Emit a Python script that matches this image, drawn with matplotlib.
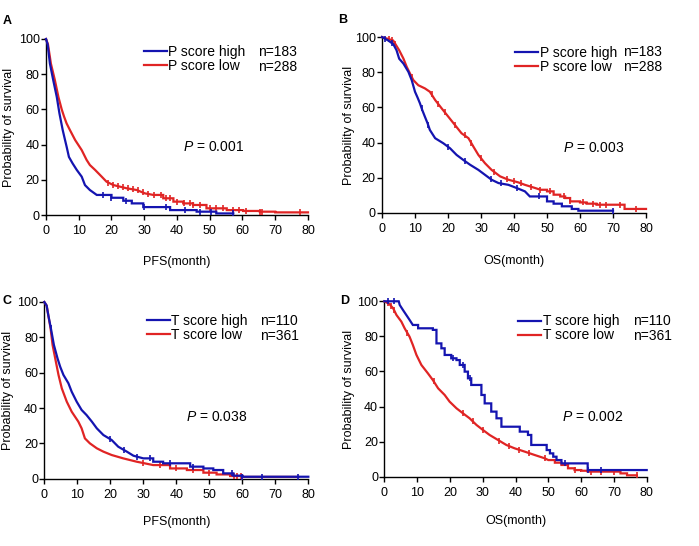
import numpy as np
import matplotlib
matplotlib.use("Agg")
import matplotlib.pyplot as plt

plt.rcParams['font.family'] = ['Liberation Sans', 'DejaVu Sans']
plt.rcParams['mathtext.fontset'] = 'custom'
plt.rcParams['mathtext.rm'] = 'Liberation Sans'
plt.rcParams['mathtext.it'] = 'Liberation Sans:italic'

BLUE = '#1414b0'
RED = '#e02424'

# --- Kaplan-Meier curves (month, survival %) ---
# A: PFS by P score
a_high_t = [0, 0.5, 1.2, 2.2, 3.3, 4.1, 5.1, 5.7, 6.3, 7.0, 8.1, 9.4, 10.9, 11.9, 13.4, 15.5, 20, 23.6, 26.2, 29.7, 37.9, 46, 52, 57.2]
a_high_s = [100, 97, 86, 76.7, 67, 57.8, 48.3, 43.5, 38.8, 33, 29.4, 25.6, 21.8, 17, 14.2, 11.4, 9.8, 8.1, 6.6, 4.5, 2.8, 1.9, 0.9, 0.9]
a_high_c = [17.5, 20, 24.5, 30, 36.5, 42.5, 47, 50.5, 57]
a_low_t = [0, 0.6, 1.5, 2.7, 3.8, 4.8, 5.5, 6.3, 7.3, 8.9, 10.9, 12.4, 13.4, 15, 17, 18.5, 20.6, 22.6, 24.6, 27.7, 30.2, 32.8, 35.8,
           38.9, 41.9, 44.9, 49, 55.2, 60.2, 65.3, 70, 80]
a_low_s = [100, 97, 86, 76.7, 67, 60, 56, 52, 48.3, 42.6, 36.9, 31.3, 28.4, 25.6, 21.8, 18.9, 17, 16.1, 15.2, 14.2, 12.3, 11.4, 9.5,
           7.6, 6.6, 5.7, 3.8, 2.8, 2.3, 1.9, 1.5, 1.5]
a_low_c = [19, 20.5, 22, 23.5, 25, 26.5, 28, 29.5, 31, 33, 35, 36.5, 38, 40, 42, 44, 45, 47, 50, 52, 54, 57, 59, 61, 65.5, 66, 77.5]

# B: OS by P score
b_high_t = [0, 1.9, 3.4, 4.4, 5.2, 6.5, 8, 9, 10, 10.8, 11.5, 12.2, 13, 13.8, 14.5, 16.1, 18.6, 20.6, 22.6, 24.6, 26.7, 29.2, 31.2,
            33.2, 35.3, 38.3, 40.8, 43.3, 44.8, 50, 52, 54.5, 57.5, 59.5, 70]
b_high_s = [100, 98, 96, 92.5, 87.7, 84.9, 80.2, 75.5, 68.9, 65.5, 62.3, 58.5, 54.7, 51, 47.2, 42.5, 39.6, 36.8, 33, 30.2, 27.4, 24.5, 21.7,
            18.9, 17, 16, 14.2, 12.3, 9.4, 6.6, 5.3, 3.8, 2.3, 1.3, 1.3]
b_high_c = [1, 3, 12, 14, 20, 25, 33, 36, 41, 47.5, 70]
b_low_t = [0, 3.4, 5.2, 6.5, 7.5, 8.5, 9.5, 11, 13, 14.5, 16.1, 18.1, 20.1, 22.1, 24.1, 26.2, 27.7, 29.2, 31.2, 33.2, 35.8, 38.3,
           41.3, 43.3, 46.4, 48, 50, 52, 54, 55.5, 57, 60, 62, 65, 73.5, 80]
b_low_s = [100, 98, 92.5, 87.7, 83, 79.2, 75.5, 72.6, 70.8, 68.9, 64.2, 59.4, 54.7, 50, 45.3, 42.5, 37.7, 33, 28.3, 24.5, 20.8, 18.9,
           17.4, 16, 14.2, 13.2, 12.3, 10.4, 9.4, 8.5, 6.6, 6, 5.3, 4.7, 2.3, 2.3]
b_low_c = [2, 3, 4, 9, 15, 17, 19, 22, 25, 27, 30, 34, 38, 40, 42, 45, 48, 51, 55, 57, 61, 64, 66, 68, 72, 77]

# C: PFS by T score
c_high_t = [0, 0.7, 1.2, 2, 2.9, 4, 4.8, 5.8, 7.3, 8.3, 9.8, 11.3, 12.8, 14.4, 15.9, 17.9, 20.4, 22.4, 25, 27, 30, 33, 36,
            44.2, 48.2, 51.2, 54.2, 57.3, 60, 80]
c_high_s = [100, 98, 92.6, 85, 75.7, 68.1, 63.4, 58.7, 54, 49.2, 43.6, 38.9, 36, 32.3, 28.5, 24.7, 21.9, 18.1, 15.3, 13, 11.5, 9.6, 8.7,
            6.8, 5.8, 4.9, 3, 1.7, 1.1, 1.1]
c_high_c = [2, 20, 24, 28, 32, 38, 45, 57, 60, 66, 77]
c_low_t = [0, 0.7, 1.2, 1.9, 2.5, 3.5, 4.3, 5.3, 6.8, 8.3, 10.3, 11.3, 12.3, 13.8, 15.9, 17.9, 20.4, 23.9, 28, 33, 38.1, 43.2,
           48.2, 52.2, 56.3, 60, 77]
c_low_s = [100, 98, 92.6, 85, 75.7, 66.2, 58.7, 51.1, 43.6, 37.9, 32.3, 28.5, 22.8, 20, 17.2, 15.3, 13.4, 11.5, 9.6, 7.7, 5.8, 4.9,
           3.4, 2.4, 1.5, 1, 1]
c_low_c = [30, 35, 40, 45, 50, 57.5, 58.5, 59.5, 60]

# D: OS by T score
d_high_t = [0, 4.4, 4.7, 5.7, 6.7, 7.7, 8.7, 10.3, 14.8, 15.9, 17.4, 18.4, 20.4, 22, 23, 24.5, 25.5, 26.5, 29.6, 30.6, 32.6,
            34.2, 35.7, 41.3, 43.8, 44.8, 49.5, 50.5, 51.5, 52.5, 54, 62, 80]
d_high_s = [100, 100, 97.9, 95, 92.2, 89.4, 86.5, 84.6, 83.7, 76, 73.2, 69.4, 67.5, 66.5, 63.7, 59.9, 56.1, 52.3, 46.6, 41.8, 37.1,
            33.3, 28.5, 25.7, 23.8, 18.1, 15.2, 13.3, 11.4, 9.5, 7.6, 3.8, 3.8]
d_high_c = [1, 3, 21, 24, 26, 55, 62, 66]
d_low_t = [0, 1.5, 2.7, 3.7, 5.2, 6.2, 7.7, 8.7, 9.8, 11.3, 13.3, 14.8, 16.4, 18.4, 19.9, 22, 24, 26, 28.1, 30.1, 32.1, 34.7,
           37.2, 39.7, 42.8, 45.8, 48.9, 50, 52, 54, 56, 58, 60, 62, 72, 74, 77]
d_low_s = [100, 98.5, 96, 92.2, 88.4, 84.6, 79.8, 75.1, 69.4, 63.7, 58.9, 55.1, 50.4, 46.6, 42.8, 39, 36.1, 33.3, 29.5, 26.6, 23.8, 20.9,
           18.1, 16.2, 14.3, 12.4, 10.5, 9.5, 8, 6.7, 4.8, 3.8, 3.4, 2.9, 1.9, 0.8, 0.8]
d_low_c = [1, 2, 3, 7, 15, 24, 27, 30, 35, 38, 41, 44, 49, 58, 63, 66, 70, 77]

# the dense early part of each curve is drawn as a line, the sparse tail as steps
panels = [
    dict(letter='A', pos=[0.0658, 0.6062, 0.3748, 0.3224],
         hi=(a_high_t, a_high_s, a_high_c, 15.5), lo=(a_low_t, a_low_s, a_low_c, 33),
         labels=('P score high', 'P score low'), ns=('n=183', 'n=288'), xlabel='PFS(month)', p='0.001',
         leg=(29.9, 88.5, 64.7), ptxt=(41.8, 38.6), ylc=-0.12, xlc=-0.23, lpos=(7, 21)),
    dict(letter='B', pos=[0.5465, 0.6099, 0.3777, 0.3223],
         hi=(b_high_t, b_high_s, b_high_c, 45), lo=(b_low_t, b_low_s, b_low_c, 48),
         labels=('P score high', 'P score low'), ns=('n=183', 'n=288'), xlabel='OS(month)', p='0.003',
         leg=(40.4, 87.2, 73.1), ptxt=(54.8, 37.1), ylc=-0.101, xlc=-0.24, lpos=(343, 20)),
    dict(letter='C', pos=[0.0634, 0.1233, 0.3777, 0.3236],
         hi=(c_high_t, c_high_s, c_high_c, 30), lo=(c_low_t, c_low_s, c_low_c, 33),
         labels=('T score high', 'T score low'), ns=('n=110', 'n=361'), xlabel='PFS(month)', p='0.038',
         leg=(31.0, 85.1, 65.4), ptxt=(42.9, 35.1), ylc=-0.114, xlc=-0.212, lpos=(7, 301)),
    dict(letter='D', pos=[0.5498, 0.1269, 0.3754, 0.3213],
         hi=(d_high_t, d_high_s, d_high_c, 10), lo=(d_low_t, d_low_s, d_low_c, 50),
         labels=('T score high', 'T score low'), ns=('n=110', 'n=361'), xlabel='OS(month)', p='0.002',
         leg=(40.9, 84.5, 75.7), ptxt=(54.1, 34.2), ylc=-0.111, xlc=-0.217, lpos=(345, 301)),
]


def km_path(t, s, smooth_until):
    xs, ys = [t[0]], [s[0]]
    for i in range(1, len(t)):
        if t[i] > smooth_until:
            xs.append(t[i])
            ys.append(s[i - 1])
        xs.append(t[i])
        ys.append(s[i])
    return xs, ys


def curve_value(xs, ys, tc):
    # value of the drawn curve at the censor times (last point at that time)
    xs = np.asarray(xs)
    ys = np.asarray(ys)
    out = []
    for x in tc:
        idx = np.searchsorted(xs, x, side='right') - 1
        idx = min(max(idx, 0), len(xs) - 1)
        if idx < len(xs) - 1 and xs[idx + 1] > xs[idx] and ys[idx + 1] != ys[idx]:
            out.append(np.interp(x, xs[idx:idx + 2], ys[idx:idx + 2]))
        else:
            out.append(ys[idx])
    return out


fig = plt.figure(figsize=(6.99, 5.46), dpi=100)

for pnl in panels:
    ax = fig.add_axes(pnl['pos'])
    handles = []
    for key, color in (('lo', RED), ('hi', BLUE)):
        t, s, c, smooth = pnl[key]
        xs, ys = km_path(t, s, smooth)
        ln, = ax.plot(xs, ys, color=color, lw=1.6, clip_on=False, zorder=3, solid_joinstyle='miter')
        ax.plot(c, curve_value(xs, ys, c), linestyle='none', marker='|', markersize=4.5,
                markeredgewidth=1.2, color=color, clip_on=False, zorder=3)
        handles.append(ln)
    handles = handles[::-1]

    ax.set_xlim(0, 80)
    ax.set_ylim(0, 100)
    ax.set_xticks(np.arange(0, 81, 10))
    ax.set_yticks(np.arange(0, 101, 20))
    for side in ['top', 'right']:
        ax.spines[side].set_visible(False)
    for side in ['left', 'bottom']:
        ax.spines[side].set_linewidth(1.0)
    ax.tick_params(axis='both', direction='out', length=3.5, width=1.0, labelsize=9)
    ax.tick_params(axis='y', pad=1)
    ax.tick_params(axis='x', pad=4)

    ax.set_ylabel('Probability of survival', fontsize=9)
    ax.yaxis.set_label_coords(pnl['ylc'], 0.5)
    ax.set_xlabel(pnl['xlabel'], fontsize=9)
    ax.xaxis.set_label_coords(0.5, pnl['xlc'])

    lx, ly, nx = pnl['leg']
    ax.legend(handles, pnl['labels'], loc='center left', bbox_to_anchor=(lx, ly), bbox_transform=ax.transData,
              frameon=False, fontsize=10, handlelength=1.65, handletextpad=0.1, labelspacing=0.0,
              borderpad=0, borderaxespad=0)
    row = 4.3
    ax.text(nx, ly + row, pnl['ns'][0], fontsize=10, va='center', ha='left')
    ax.text(nx, ly - row, pnl['ns'][1], fontsize=10, va='center', ha='left')

    px, py = pnl['ptxt']
    ax.text(px, py, r'$P$ = ' + pnl['p'], fontsize=10, va='center', ha='left')

    fig.text(pnl['lpos'][0] / 699, 1 - pnl['lpos'][1] / 546, pnl['letter'], fontsize=9,
             fontweight='bold', ha='center', va='center')

plt.savefig('out.png', dpi=100)
